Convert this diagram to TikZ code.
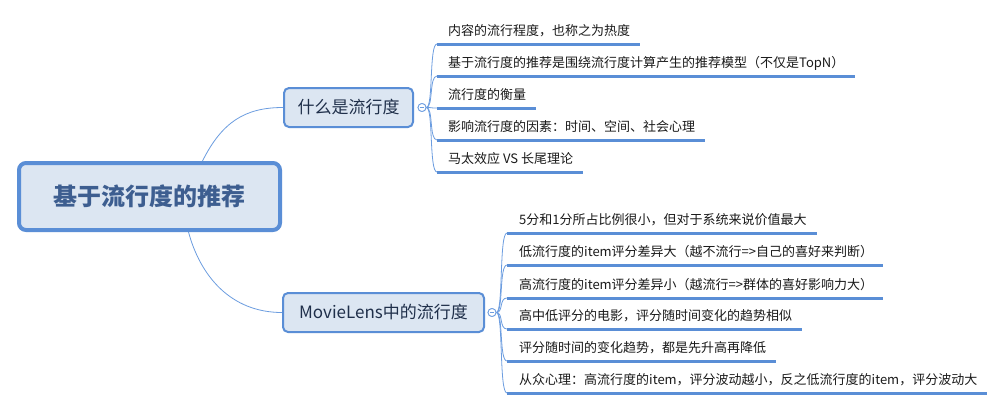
\documentclass[tikz,border=0pt]{standalone}
\usepackage{fontspec}
\setmainfont{Noto Sans CJK SC}
\begin{document}
\begin{tikzpicture}[x=1pt,y=-1pt,
  rootbox/.style={draw=boxblue,fill=boxfill,line width=4pt,rounded corners=7pt,
    minimum width=261pt,minimum height=67pt,inner sep=0pt,
    font=\fontsize{24}{28}\selectfont\bfseries,text=roottext},
  branchbox/.style={draw=boxblue,fill=boxfill,line width=2pt,rounded corners=5pt,
    minimum height=39pt,inner sep=0pt,
    font=\fontsize{17}{20}\selectfont,text=branchtext},
  leaf/.style={anchor=base west,inner sep=0pt,font=\fontsize{13}{15}\selectfont,text=leaftext},
  uline/.style={draw=boxblue,line width=3pt},
  conn/.style={draw=connblue,line width=0.8pt},
  fold/.style={circle,draw=connblue,fill=white,line width=0.8pt,minimum size=8pt,inner sep=0pt},
]
\definecolor{boxblue}{HTML}{5A8ED6}
\definecolor{boxfill}{HTML}{DCE6F2}
\definecolor{roottext}{HTML}{3D5E90}
\definecolor{branchtext}{HTML}{1F2F4A}
\definecolor{leaftext}{HTML}{1A1A1A}
\definecolor{connblue}{HTML}{6C9DE0}
\useasboundingbox (0,0) rectangle (1006,410);
\fill[white] (0,0) rectangle (1006,410);

% root
\node[rootbox] (root) at (149.5,196.5) {基于流行度的推荐};

% branches
\node[branchbox,minimum width=129pt] (b1) at (348.5,107.5) {什么是流行度};
\node[branchbox,minimum width=201pt] (b2) at (383.5,312.5) {MovieLens中的流行度};

\draw[conn] ([xshift=53pt]root.north) .. controls (222,122) and (245,107.5) .. (b1.west);
\draw[conn] ([xshift=39pt]root.south) .. controls (200,275) and (230,312.5) .. (b2.west);

% fold circles
\node[fold] (c1) at (422,107.5) {};
\node[fold] (c2) at (492,312.5) {};

% branch 1 leaves
\foreach \i/\y/\t in {1/44/{内容的流行程度，也称之为热度},
                      2/76/{基于流行度的推荐是围绕流行度计算产生的推荐模型（不仅是TopN）},
                      3/108/{流行度的衡量},
                      4/140/{影响流行度的因素：时间、空间、社会心理},
                      5/172/{马太效应 VS 长尾理论}}{
  \coordinate (ua\i) at (437,\y);
  \node[leaf] (la\i) at (448,\y-9) {\t};
  \draw[conn] (c1.east) .. controls +(7,0) and +(-8,0) .. (ua\i);
  \draw[uline] (ua\i) -- ([xshift=10pt]la\i.east |- ua\i);
}

% branch 2 leaves
\foreach \i/\y/\t in {1/233/{5分和1分所占比例很小，但对于系统来说价值最大},
                      2/265/{低流行度的item评分差异大（越不流行=>自己的喜好来判断）},
                      3/298/{高流行度的item评分差异小（越流行=>群体的喜好影响力大）},
                      4/329/{高中低评分的电影，评分随时间变化的趋势相似},
                      5/361/{评分随时间的变化趋势，都是先升高再降低},
                      6/393/{从众心理：高流行度的item，评分波动越小，反之低流行度的item，评分波动大}}{
  \coordinate (ub\i) at (507,\y);
  \node[leaf] (lb\i) at (519,\y-9) {\t};
  \draw[conn] (c2.east) .. controls +(7,0) and +(-8,0) .. (ub\i);
  \draw[uline] (ub\i) -- ([xshift=10pt]lb\i.east |- ub\i);
}

% redraw fold circles on top with minus signs
\node[fold] at (c1) {};
\node[fold] at (c2) {};
\draw[connblue,line width=0.8pt] ([xshift=-2.3pt]c1.center) -- ([xshift=2.3pt]c1.center);
\draw[connblue,line width=0.8pt] ([xshift=-2.3pt]c2.center) -- ([xshift=2.3pt]c2.center);
\end{tikzpicture}
\end{document}
